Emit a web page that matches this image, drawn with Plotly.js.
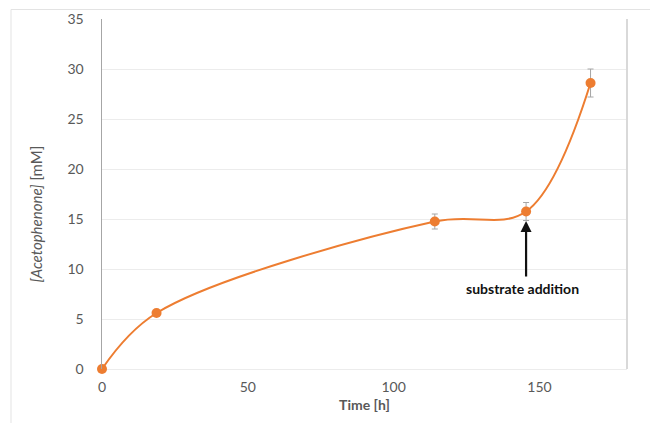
<!DOCTYPE html>
<html>
<head>
<meta charset="utf-8">
<script src="https://cdn.plot.ly/plotly-3.0.1.min.js"></script>
<style>html,body{margin:0;padding:0;background:#fff;}#chart{width:650px;height:423px;}</style>
</head>
<body>
<div id="chart"></div>
<script>
// Data
const timeH = [0, 18.7, 114.1, 145.4, 167.5];
const acetophenone = [0, 5.6, 14.75, 15.75, 28.6];
const errors = [0, 0.2, 0.75, 0.9, 1.4];
const xTicks = [0, 50, 100, 150];
const yTicks = [0, 5, 10, 15, 20, 25, 30, 35];
const arrowTarget = {x: 145.4, y: 14.8};
const arrowLabel = "substrate addition";

const FONT = "Lato, 'Open Sans', sans-serif";
const GRAY = "#595959";

const trace = {
  x: timeH,
  y: acetophenone,
  type: "scatter",
  mode: "lines+markers",
  cliponaxis: false,
  line: {color: "#ed7d31", width: 2, shape: "spline", smoothing: 1},
  marker: {color: "#ed7d31", size: 10},
  error_y: {type: "data", array: errors, visible: true, color: "#a6a6a6", thickness: 1, width: 3},
  hoverinfo: "skip",
  showlegend: false
};

const layout = {
  width: 650, height: 423,
  margin: {l: 102, r: 23, t: 19, b: 54},
  paper_bgcolor: "#ffffff",
  plot_bgcolor: "#ffffff",
  font: {family: FONT, color: GRAY, size: 14},
  xaxis: {
    range: [0, 180],
    tickvals: xTicks,
    showgrid: false,
    zeroline: false,
    showline: false,
    ticks: "",
    ticklabelstandoff: 8,
    tickfont: {family: FONT, size: 14, color: GRAY},
    title: {text: "<b>Time [h]</b>", font: {family: FONT, size: 14, color: GRAY}, standoff: 6}
  },
  yaxis: {
    range: [0, 35],
    tickvals: yTicks,
    showgrid: true,
    gridcolor: "#ececec",
    gridwidth: 1,
    zeroline: true,
    zerolinecolor: "#ececec",
    zerolinewidth: 1,
    showline: true,
    linecolor: "#a6a6a6",
    linewidth: 1.5,
    ticks: "",
    ticklabelstandoff: 14,
    tickfont: {family: FONT, size: 14, color: GRAY}
  },
  shapes: [
    {type: "line", xref: "paper", yref: "paper", x0: 1, x1: 1, y0: 0, y1: 1,
     line: {color: "#d9d9d9", width: 2}},
    {type: "line", xref: "paper", yref: "paper", x0: -91/525, x1: (650-102)/525, y0: (369.5-10)/350, y1: (369.5-10)/350,
     line: {color: "#e3e3e3", width: 1}},
    {type: "line", xref: "paper", yref: "paper", x0: -91/525, x1: -91/525, y0: (369.5-10)/350, y1: -60/350,
     line: {color: "#e3e3e3", width: 1}}
  ],
  annotations: [
    {xref: "paper", yref: "paper", x: (36-102)/525, y: (369.5-215)/350, xanchor: "center", yanchor: "middle",
     textangle: -90, showarrow: false,
     text: "<i>[Acetophenone]</i> [mM]", font: {family: FONT, size: 15, color: GRAY}},
    {x: arrowTarget.x, y: arrowTarget.y, xref: "x", yref: "y", text: "", showarrow: true,
     ax: 0, ay: 57, axref: "pixel", ayref: "pixel",
     arrowhead: 2, arrowsize: 1, arrowwidth: 2.2, arrowcolor: "#111111"},
    {x: 144, y: 8.05, xref: "x", yref: "y", text: "<b>" + arrowLabel + "</b>", showarrow: false,
     xanchor: "center", yanchor: "middle", font: {family: FONT, size: 14, color: "#111111"}}
  ]
};

Plotly.newPlot("chart", [trace], layout, {displayModeBar: false, staticPlot: true});
</script>
</body>
</html>
